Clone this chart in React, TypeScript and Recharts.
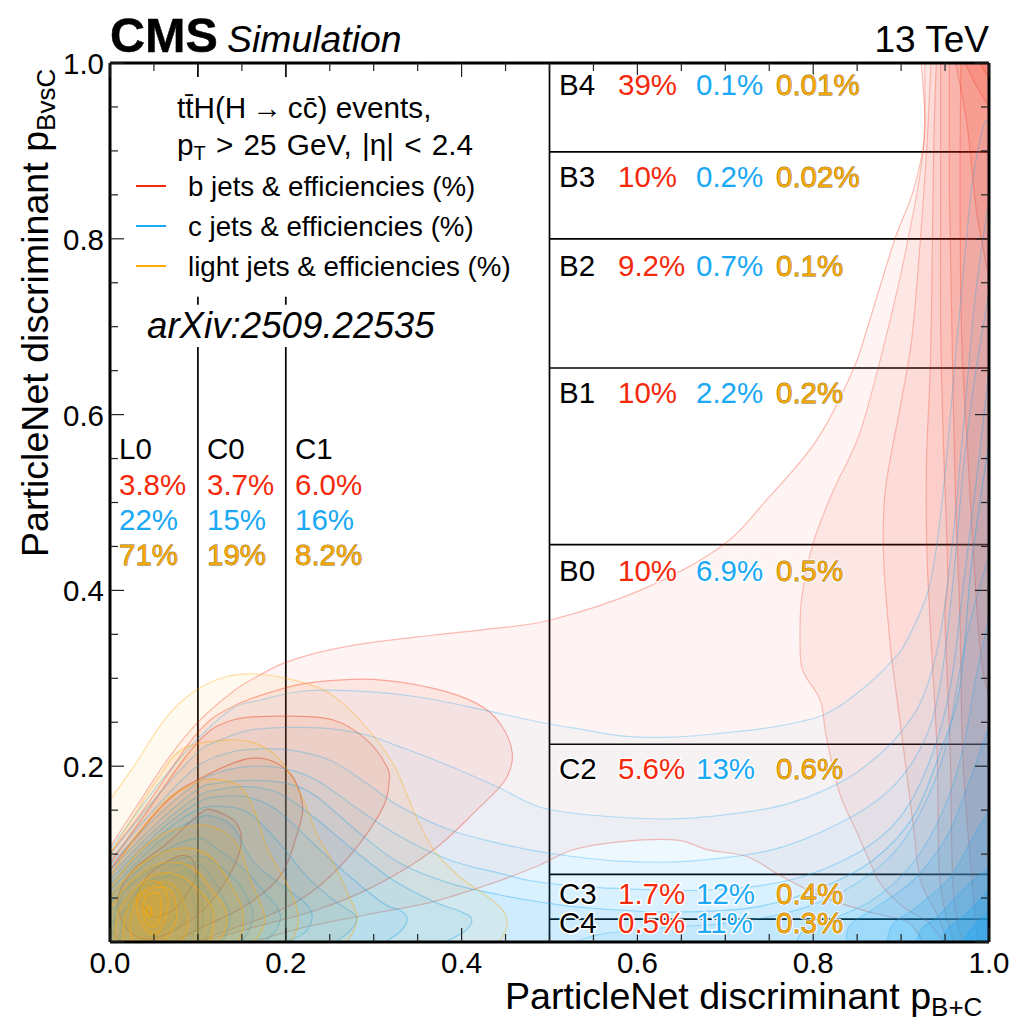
import React from 'react';
import { ScatterChart, Scatter, XAxis, YAxis, ReferenceLine } from 'recharts';

// contour outlines, [pBplusC, pBvsC]
const r1 = [[0,.108],[.03,.154],[.065,.207],[.099,.249],[.14,.285],[.171,.304],[.197,.317],[.235,.329],[.292,.34],[.367,.349],[.43,.356],[.5,.366],[.603,.4],[.694,.449],[.747,.503],[.804,.571],[.845,.65],[.862,.7],[.893,.8],[.914,.855],[.927,.92],[.923,1],[1,1],[1,0],[.925,0],[.907,.023],[.868,.033],[.811,.051],[.762,.076],[.725,.097],[.679,.105],[.645,.116],[.58,.114],[.527,.105],[.489,.0876],[.444,.07],[.368,.046],[.292,.031],[.216,.0155],[.163,0],[0,0]];
const r2Left = [[0,.101],[.038,.15],[.0986,.237],[.14,.268],[.197,.2886],[.235,.296],[.2996,.2988],[.368,.2886],[.417,.2715],[.4437,.2488],[.4577,.2146],[.4494,.184],[.417,.15],[.368,.1047],[.2996,.063],[.235,.0364],[.159,.0155],[.102,0],[0,0]];
const r2Right = [[.927,1],[.925,.9],[.907,.795],[.882,.685],[.853,.579],[.823,.514],[.8,.454],[.787,.392],[.785,.344],[.788,.309],[.808,.275],[.815,.233],[.83,.1695],[.85,.124],[.865,.09],[.876,.067],[.902,.04],[.93,.023],[.948,0],[1,0],[1,1]];
const r3Left = [[0,.0895],[.038,.1426],[.0986,.226],[.14,.2526],[.201,.257],[.254,.2526],[.292,.23],[.315,.1995],[.3174,.1805],[.311,.154],[.284,.112],[.25,.0743],[.216,.048],[.178,.029],[.14,.0155],[.0986,0],[0,0]];
const r3Right = [[.934,1],[.929,.9],[.921,.787],[.912,.685],[.899,.609],[.882,.514],[.88,.438],[.887,.344],[.891,.309],[.902,.226],[.914,.131],[.922,.07],[.94,.033],[.953,0],[1,0],[1,1]];
const r4Left = [[0,.082],[.0265,.116],[.0645,.16],[.0986,.184],[.159,.209],[.201,.1957],[.2188,.158],[.212,.12],[.193,.074],[.152,.04],[.102,.0155],[.072,0],[.012,0],[0,.014]];
const r4Right = [[.94,1],[.937,.9],[.935,.75],[.933,.647],[.929,.552],[.929,.457],[.933,.363],[.941,.215],[.944,.07],[.96,0],[1,0],[1,1]];
const r5Left = [[.0095,.052],[.0265,.082],[.0645,.112],[.102,.146],[.1176,.15],[.144,.135],[.1487,.1085],[.1327,.0705],[.102,.0326],[.057,.006],[.03,.006],[.0133,.025]];
const r5Right = [[.945,1],[.945,.85],[.945,.7],[.948,.571],[.953,.42],[.95,.366],[.956,.215],[.959,.063],[.969,0],[1,0],[1,1]];
const r6Left = [[.049,.029],[.034,.044],[.03,.052],[.0455,.078],[.076,.097],[.091,.096],[.0975,.082],[.095,.067],[.076,.04],[.061,.031]];
const r6Right = [[.955,1],[.955,.85],[.958,.685],[.962,.5],[.967,.366],[.97,.215],[.978,.1],[.987,0],[1,0],[1,1]];
const r7 = [[.968,1],[.967,.85],[.969,.685],[.975,.571],[.986,.381],[.993,.309],[1,.28],[1,1]];
const r8 = [[.962,1],[.975,.93],[.986,.83],[1,.755],[1,1]];
const r9 = [[.973,1],[.985,.975],[1,.95],[1,1]];
const r10 = [[.99,1],[.995,.99],[1,.985],[1,1]];

const c1 = [[0,.105],[.053,.1767],[.0986,.23],[.14,.266],[.1706,.275],[.216,.285],[.273,.286],[.349,.279],[.4247,.264],[.489,.25],[.527,.2435],[.584,.2343],[.64,.233],[.697,.2377],[.754,.2446],[.811,.258],[.85,.283],[.887,.317],[.907,.344],[.933,.408],[.948,.514],[.9636,.685],[.975,.807],[.981,.8635],[.993,.926],[1,.935],[1,0],[0,0]];
const c2 = [[0,.099],[.053,.165],[.0986,.2146],[.121,.228],[.159,.241],[.197,.244],[.2465,.243],[.292,.2355],[.33,.222],[.387,.2],[.4437,.175],[.489,.1536],[.546,.1445],[.64,.14],[.717,.1468],[.7736,.158],[.83,.181],[.868,.207],[.899,.238],[.925,.279],[.944,.347],[.959,.46],[.972,.6],[.985,.74],[1,.845],[1,0],[0,0]];
const c3 = [[0,.093],[.053,.154],[.0986,.1995],[.14,.2165],[.178,.22],[.216,.2165],[.254,.205],[.292,.1805],[.33,.154],[.387,.1274],[.4437,.112],[.5,.101],[.58,.092],[.66,.092],[.754,.105],[.83,.135],[.887,.173],[.925,.226],[.944,.29],[.958,.4],[.972,.55],[.985,.65],[1,.74],[1,0],[0,0]];
const c4 = [[0,.0876],[.053,.1426],[.0986,.1805],[.121,.192],[.1555,.1995],[.197,.1976],[.235,.184],[.284,.15],[.33,.12],[.387,.093],[.4437,.078],[.489,.068],[.565,.0614],[.679,.059],[.7736,.0705],[.85,.101],[.899,.142],[.933,.207],[.956,.29],[.97,.4],[.985,.52],[1,.65],[1,0],[0,0]];
const c5 = [[0,.082],[.053,.135],[.0986,.173],[.121,.1805],[.159,.184],[.201,.1805],[.235,.1653],[.284,.1236],[.33,.0895],[.387,.0667],[.4437,.0535],[.489,.0455],[.546,.0387],[.64,.034],[.736,.04],[.811,.0626],[.868,.093],[.9135,.142],[.944,.215],[.967,.29],[.98,.43],[1,.57],[1,0],[0,0]];
const c6Left = [[0,.076],[.053,.129],[.0986,.165],[.121,.173],[.1555,.1767],[.193,.169],[.2313,.1426],[.277,.1047],[.322,.0705],[.368,.046],[.398,.035],[.4114,.0265],[.404,.0125],[.381,0],[0,0]];
const c6Right = [[.529,0],[.565,.01],[.64,.017],[.717,.023],[.793,.04],[.85,.067],[.895,.105],[.929,.1615],[.952,.226],[.965,.3],[.98,.37],[1,.44],[1,0]];
const c7Left = [[0,.0705],[.053,.1236],[.0986,.158],[.121,.165],[.1555,.165],[.19,.15],[.2313,.112],[.273,.0743],[.311,.044],[.33,.036],[.338,.0265],[.331,.0125],[.313,0],[0,0]];
const c7Right = [[.781,0],[.788,.011],[.819,.025],[.868,.048],[.9135,.09],[.948,.15],[.97,.218],[.985,.3],[1,.37],[1,0]];
const c8Left = [[0,.065],[.053,.118],[.0986,.15],[.129,.154],[.159,.146],[.193,.112],[.224,.0743],[.254,.048],[.272,.036],[.281,.0265],[.273,.0125],[.256,0],[0,0]];
const c8Right = [[.838,0],[.842,.0193],[.8725,.04],[.9135,.07],[.952,.12],[.975,.176],[1,.245],[1,0]];
const c9Left = [[0,.059],[.053,.112],[.0986,.1407],[.1176,.1426],[.14,.131],[.1615,.093],[.188,.07],[.2136,.0516],[.226,.04],[.23,.027],[.222,.011],[.2,0],[0,0]];
const c9Right = [[.884,0],[.891,.021],[.918,.04],[.956,.074],[.982,.12],[1,.15],[1,0]];
const c10Left = [[0,.052],[.053,.098],[.0986,.118],[.123,.105],[.1536,.082],[.18,.0516],[.19,.04],[.194,.027],[.188,.012],[.176,0],[0,0]];
const c10Right = [[.9177,0],[.924,.016],[.941,.028],[.97,.059],[1,.085],[1,0]];
const c11Left = [[0,.045],[.05,.083],[.0986,.098],[.123,.0876],[.146,.067],[.158,.047],[.163,.03],[.158,.013],[.15,0],[0,0]];
const c11Right = [[.948,0],[.952,.014],[.975,.033],[1,.06],[1,0]];
const c12Left = [[0,.035],[.03,.06],[.07,.085],[.1,.0895],[.12,.0667],[.132,.044],[.1365,.028],[.133,.012],[.127,0],[0,0]];
const c12Right = [[.97,0],[.98,.015],[1,.035],[1,0]];
const c13 = [[0,.02],[.02,.04],[.05,.068],[.0853,.08],[.104,.0667],[.115,.044],[.114,.018],[.108,0],[0,0]];
const c14 = [[.005,0],[.0075,.04],[.03,.073],[.06,.088],[.09,.082],[.105,.05],[.105,.02],[.1,0]];
const c15 = [[.0107,0],[.0167,.033],[.036,.063],[.0622,.0743],[.0887,.0667],[.0975,.035],[.096,.012],[.09,0]];
const c16 = [[.026,.05],[.05,.0667],[.074,.06],[.087,.0345],[.074,.0136],[.047,.006],[.026,.015]];
const c17 = [[.0375,.0326],[.047,.0516],[.062,.051],[.0755,.0345],[.066,.018],[.047,.0155]];

const l1 = [[0,.1615],[.0265,.199],[.0645,.256],[.0986,.287],[.133,.302],[.163,.305],[.201,.3],[.2465,.285],[.284,.2526],[.322,.203],[.345,.15],[.368,.105],[.398,.074],[.429,.052],[.447,.036],[.452,.021],[.448,.008],[.442,0],[0,0]];
const l2 = [[0,.1],[.0265,.1426],[.053,.184],[.0834,.22],[.1365,.23],[.1706,.224],[.197,.203],[.22,.1615],[.235,.1236],[.254,.0895],[.272,.052],[.281,.029],[.277,.0125],[.269,0],[0,0]];
const l3 = [[0,.074],[.0265,.116],[.0645,.1615],[.095,.18],[.114,.185],[.148,.177],[.167,.1426],[.178,.108],[.201,.0667],[.212,.04],[.214,.0225],[.21,.008],[.205,0],[0,0]];
const l4 = [[0,.06],[.03,.1],[.06,.123],[.085,.13],[.106,.133],[.13,.125],[.148,.105],[.16,.07],[.173,.04],[.1763,.024],[.171,.01],[.163,0],[0,0]];
const l5 = [[0,.05],[.025,.08],[.055,.1],[.085,.107],[.11,.1],[.125,.085],[.14,.06],[.15,.04],[.1517,.022],[.15,.01],[.146,0],[0,0]];
const l6 = [[0,.038],[.02,.065],[.05,.087],[.08,.09],[.1,.08],[.115,.06],[.13,.04],[.133,.024],[.13,.01],[.123,0],[0,0]];
const l7 = [[.005,0],[.01,.035],[.03,.062],[.055,.078],[.08,.075],[.1,.06],[.116,.04],[.118,.02],[.114,0]];
const l8 = [[.015,0],[.017,.03],[.03,.052],[.055,.068],[.075,.062],[.088,.0326],[.087,.012],[.0796,0]];
const l9 = [[.025,0],[.023,.025],[.033,.05],[.05,.062],[.07,.058],[.0759,.03],[.07,.012],[.06,0]];
const l10 = [[.0356,.021],[.03,.044],[.0375,.0648],[.0546,.0686],[.066,.05],[.0622,.025],[.051,.008]];
const l11 = [[.0375,.0326],[.041,.0516],[.0546,.0554],[.058,.04],[.0546,.021],[.045,.0174]];
const l12 = [[.041,.0307],[.0425,.04],[.047,.0387],[.047,.0307]];

// working points and efficiencies
const lowCuts = [0.1, 0.2];
const lowCutSpans = [[0, .677], [.725, .734], [.984, 1]];
const binEdge = 0.5;
const horizontalCuts = [0.026, 0.077, 0.225, 0.452, 0.653, 0.8, 0.899];
const lowNames = ['L0', 'C0', 'C1'];
const lowB = ['3.8%', '3.7%', '6.0%'];
const lowC = ['22%', '15%', '16%'];
const lowLight = ['71%', '19%', '8.2%'];
const highNames = ['B4', 'B3', 'B2', 'B1', 'B0', 'C2', 'C3', 'C4'];
const highB = ['39%', '10%', '9.2%', '10%', '10%', '5.6%', '1.7%', '0.5%'];
const highC = ['0.1%', '0.2%', '0.7%', '2.2%', '6.9%', '13%', '12%', '11%'];
const highLight = ['0.01%', '0.02%', '0.1%', '0.2%', '0.5%', '0.6%', '0.4%', '0.3%'];
const axisTicks = [0, .05, .1, .15, .2, .25, .3, .35, .4, .45, .5, .55, .6, .65, .7, .75, .8, .85, .9, .95, 1];
const labelledTicks = [0, .2, .4, .6, .8, 1];
const axisSpan = [{ x: 0, y: 0 }, { x: 1, y: 1 }];

const RED = '#f5290b';
const BLUE = '#1ba8f5';
const YELLOW = '#ffaa00';
const FONT = '"Liberation Sans", Arial, sans-serif';

const LEFT = 110, RIGHT = 989, TOP = 63, BOTTOM = 942;
const lowX = [119, 207, 295];
const highY = [95, 187, 276, 403, 581, 779, 904, 933];

const toPoints = (rows: number[][]) => rows.map(([x, y]) => ({ x, y }));
const noMark = () => <g />;

const sameEdge = (a: any, b: any) =>
  (Math.abs(a.x - LEFT) < .5 && Math.abs(b.x - LEFT) < .5) ||
  (Math.abs(a.x - RIGHT) < .5 && Math.abs(b.x - RIGHT) < .5) ||
  (Math.abs(a.y - TOP) < .5 && Math.abs(b.y - TOP) < .5) ||
  (Math.abs(a.y - BOTTOM) < .5 && Math.abs(b.y - BOTTOM) < .5);

// smooth closed outline, straight where it runs along the frame
function outline(pts: any[]) {
  const n = pts.length;
  let d = `M${pts[0].x},${pts[0].y}`;
  for (let i = 0; i < n; i++) {
    const p1 = pts[i], p2 = pts[(i + 1) % n];
    if (sameEdge(p1, p2)) { d += `L${p2.x},${p2.y}`; continue; }
    const before = pts[(i - 1 + n) % n], after = pts[(i + 2) % n];
    const p0 = sameEdge(before, p1) ? p1 : before;
    const p3 = sameEdge(p2, after) ? p2 : after;
    d += `C${p1.x + (p2.x - p0.x) / 6},${p1.y + (p2.y - p0.y) / 6} ${p2.x - (p3.x - p1.x) / 6},${p2.y - (p3.y - p1.y) / 6} ${p2.x},${p2.y}`;
  }
  return d + 'Z';
}

const contour = (rows: number[][], color: string, fillAlpha: number, lineAlpha: number, key: string) => (
  <Scatter
    key={key}
    data={toPoints(rows)}
    dataKey="y"
    isAnimationActive={false}
    legendType="none"
    shape={noMark}
    line={(props: any) => (
      <path
        d={outline(props.points)}
        fill={color}
        fillOpacity={fillAlpha}
        stroke={color}
        strokeOpacity={lineAlpha}
        strokeWidth={1.2}
        clipPath="url(#plot-clip)"
      />
    )}
  />
);

const redLayers: [string, number[][], number, number][] = [
  ['r1', r1, .05, .3], ['r2l', r2Left, .07, .35], ['r2r', r2Right, .06, .25], ['r3l', r3Left, .07, .4], ['r3r', r3Right, .06, .25],
  ['r4l', r4Left, .07, .5], ['r4r', r4Right, .07, .25], ['r5l', r5Left, .08, .55], ['r5r', r5Right, .07, .25],
  ['r6l', r6Left, .08, .6], ['r6r', r6Right, .08, .25], ['r7', r7, .08, .25], ['r8', r8, .09, .25], ['r9', r9, .1, .25], ['r10', r10, .1, .25],
];
const blueLayers: [string, number[][], number, number][] = [
  ['c1', c1, .035, .3], ['c2', c2, .04, .3], ['c3', c3, .045, .32], ['c4', c4, .05, .35], ['c5', c5, .055, .38],
  ['c6l', c6Left, .07, .4], ['c6r', c6Right, .06, .3], ['c7l', c7Left, .07, .4], ['c7r', c7Right, .09, .3], ['c8l', c8Left, .07, .4], ['c8r', c8Right, .12, .3],
  ['c9l', c9Left, .07, .4], ['c9r', c9Right, .16, .3], ['c10l', c10Left, .07, .4], ['c10r', c10Right, .2, .3],
  ['c11l', c11Left, .06, .4], ['c11r', c11Right, .28, .3], ['c12l', c12Left, .06, .4], ['c12r', c12Right, .35, .3],
  ['c13', c13, .05, .4], ['c14', c14, .03, .4], ['c15', c15, .03, .4], ['c16', c16, .03, .4], ['c17', c17, .03, .4],
];
const yellowLayers: [string, number[][], number, number][] = [
  ['l1', l1, .06, .35], ['l2', l2, .07, .4], ['l3', l3, .08, .45], ['l4', l4, .09, .45], ['l5', l5, .1, .5], ['l6', l6, .1, .5],
  ['l7', l7, .1, .5], ['l8', l8, .1, .5], ['l9', l9, .1, .55], ['l10', l10, .1, .55], ['l11', l11, .1, .6], ['l12', l12, .1, .7],
];

function EffText({ x, y, color, children }: any) {
  const outlined = color === YELLOW;
  return (
    <g fontFamily={FONT} fontSize={29.5}>
      <text x={x} y={y} fill="#fff" stroke="#fff" strokeWidth={3} strokeLinejoin="round">{children}</text>
      <text x={x} y={y} fill={outlined ? '#f7a800' : color} stroke={outlined ? '#7a6a3a' : 'none'} strokeWidth={outlined ? .8 : 0} paintOrder="stroke">{children}</text>
    </g>
  );
}

const bottomTick = ({ x, payload }: any) => {
  const major = labelledTicks.includes(payload.value);
  return (
    <g>
      <line x1={x} x2={x} y1={BOTTOM} y2={BOTTOM - (major ? 14 : 8)} stroke="#222" strokeWidth={1.2} />
      {major && <text x={x} y={973} textAnchor="middle" fontFamily={FONT} fontSize={29.5} fill="#000">{payload.value.toFixed(1)}</text>}
    </g>
  );
};
const topTick = ({ x, payload }: any) => (
  <line x1={x} x2={x} y1={TOP} y2={TOP + (labelledTicks.includes(payload.value) ? 14 : 8)} stroke="#222" strokeWidth={1.2} />
);
const leftTick = ({ y, payload }: any) => {
  const major = labelledTicks.includes(payload.value);
  return (
    <g>
      <line x1={LEFT} x2={LEFT + (major ? 14 : 8)} y1={y} y2={y} stroke="#222" strokeWidth={1.2} />
      {major && payload.value > 0 && <text x={104} y={y + 11} textAnchor="end" fontFamily={FONT} fontSize={29.5} fill="#000">{payload.value.toFixed(1)}</text>}
    </g>
  );
};
const rightTick = ({ y, payload }: any) => (
  <line x1={RIGHT} x2={RIGHT - (labelledTicks.includes(payload.value) ? 14 : 8)} y1={y} y2={y} stroke="#222" strokeWidth={1.2} />
);

const frame = { stroke: '#000', strokeWidth: 3 };
const layer = { position: 'absolute', left: 0, top: 0 } as const;
const chartMargin = { top: 0, right: 0, bottom: 0, left: 0 };

export default function App() {
  return (
    <div style={{ ...layer, width: 1014, height: 1017, overflow: 'hidden', background: '#fff' }}>
      <div style={layer}>
        <ScatterChart width={1014} height={1017} margin={chartMargin}>
          <defs>
            <clipPath id="plot-clip"><rect x={LEFT} y={TOP} width={RIGHT - LEFT} height={BOTTOM - TOP} /></clipPath>
          </defs>
          <XAxis type="number" dataKey="x" domain={[0, 1]} height={75} tick={false} tickLine={false} axisLine={false} />
          <XAxis type="number" xAxisId="top" orientation="top" domain={[0, 1]} height={63} tick={false} tickLine={false} axisLine={false} />
          <YAxis type="number" dataKey="y" domain={[0, 1]} width={110} tick={false} tickLine={false} axisLine={false} />
          <YAxis type="number" yAxisId="right" orientation="right" domain={[0, 1]} width={25} tick={false} tickLine={false} axisLine={false} />

          {redLayers.map(([k, rows, a, s]) => contour(rows, RED, a, s, k))}
          {blueLayers.map(([k, rows, a, s]) => contour(rows, BLUE, a, s, k))}
          {yellowLayers.map(([k, rows, a, s]) => contour(rows, YELLOW, a, s, k))}

          {lowCuts.map((v) => lowCutSpans.map(([from, to]) => (
            <ReferenceLine key={`${v}-${from}`} segment={[{ x: v, y: from }, { x: v, y: to }]} stroke="#000" strokeWidth={1.7} />
          )))}
          <ReferenceLine x={binEdge} stroke="#000" strokeWidth={1.7} />
          {horizontalCuts.map((v) => (
            <ReferenceLine key={v} segment={[{ x: binEdge, y: v }, { x: 1, y: v }]} stroke="#000" strokeWidth={1.7} />
          ))}
        </ScatterChart>
      </div>

      {/* frame and ticks stay above the contours */}
      <div style={layer}>
        <ScatterChart width={1014} height={1017} margin={chartMargin}>
          <XAxis type="number" dataKey="x" domain={[0, 1]} ticks={axisTicks} interval={0} height={75} tickLine={false} tickSize={0} axisLine={frame} tick={bottomTick} />
          <XAxis type="number" dataKey="x" xAxisId="top" orientation="top" domain={[0, 1]} ticks={axisTicks} interval={0} height={63} tickLine={false} tickSize={0} axisLine={frame} tick={topTick} />
          <YAxis type="number" dataKey="y" domain={[0, 1]} ticks={axisTicks} interval={0} width={110} tickLine={false} tickSize={0} axisLine={frame} tick={leftTick} />
          <YAxis type="number" dataKey="y" yAxisId="right" orientation="right" domain={[0, 1]} ticks={axisTicks} interval={0} width={25} tickLine={false} tickSize={0} axisLine={frame} tick={rightTick} />
          <Scatter data={axisSpan} shape={noMark} isAnimationActive={false} legendType="none" />
          <Scatter data={axisSpan} xAxisId="top" yAxisId="right" shape={noMark} isAnimationActive={false} legendType="none" />
        </ScatterChart>
      </div>

      <svg width={1014} height={1017} style={{ ...layer, pointerEvents: 'none' }}>
        <g fontFamily={FONT} fill="#000">
          <text x={110} y={52} fontSize={48.5} fontWeight="bold" stroke="#000" strokeWidth={.5}>CMS</text>
          <text x={227} y={52} fontSize={37.4} fontStyle="italic">Simulation</text>
          <text x={989} y={52} fontSize={37} textAnchor="end">13 TeV</text>
          <text x={147} y={338} fontSize={36.7} fontStyle="italic">arXiv:2509.22535</text>
          <text x={177} y={118} fontSize={29.7}>{'tt\u0304H(H\u2009\u2192\u2009cc\u0304) events,'}</text>
          <text x={177} y={155} fontSize={29.7} wordSpacing={2}>p<tspan fontSize={20} dy={5}>T</tspan><tspan dy={-5}> &gt; 25 GeV, |η| &lt; 2.4</tspan></text>
          <text x={188} y={196} fontSize={27.7}>b jets &amp; efficiencies (%)</text>
          <text x={188} y={236} fontSize={27.7}>c jets &amp; efficiencies (%)</text>
          <text x={188} y={276} fontSize={27.7}>light jets &amp; efficiencies (%)</text>
          <text x={505} y={1009} fontSize={37.6}>ParticleNet discriminant p<tspan fontSize={26} dy={7}>B+C</tspan></text>
          <text transform="translate(48,557) rotate(-90)" fontSize={37.6}>ParticleNet discriminant p<tspan fontSize={26} dy={7}>BvsC</tspan></text>
        </g>
        <line x1={136} x2={166} y1={186} y2={186} stroke={RED} strokeWidth={2} />
        <line x1={136} x2={166} y1={226} y2={226} stroke={BLUE} strokeWidth={2} />
        <line x1={136} x2={166} y1={266} y2={266} stroke={YELLOW} strokeWidth={2} />

        {lowNames.map((name, i) => (
          <g key={name}>
            <EffText x={lowX[i]} y={459} color="#000">{name}</EffText>
            <EffText x={lowX[i]} y={495} color={RED}>{lowB[i]}</EffText>
            <EffText x={lowX[i]} y={530} color={BLUE}>{lowC[i]}</EffText>
            <EffText x={lowX[i]} y={565} color={YELLOW}>{lowLight[i]}</EffText>
          </g>
        ))}
        {highNames.map((name, i) => (
          <g key={name}>
            <EffText x={559} y={highY[i]} color="#000">{name}</EffText>
            <EffText x={618} y={highY[i]} color={RED}>{highB[i]}</EffText>
            <EffText x={696} y={highY[i]} color={BLUE}>{highC[i]}</EffText>
            <EffText x={776} y={highY[i]} color={YELLOW}>{highLight[i]}</EffText>
          </g>
        ))}
      </svg>
    </div>
  );
}
